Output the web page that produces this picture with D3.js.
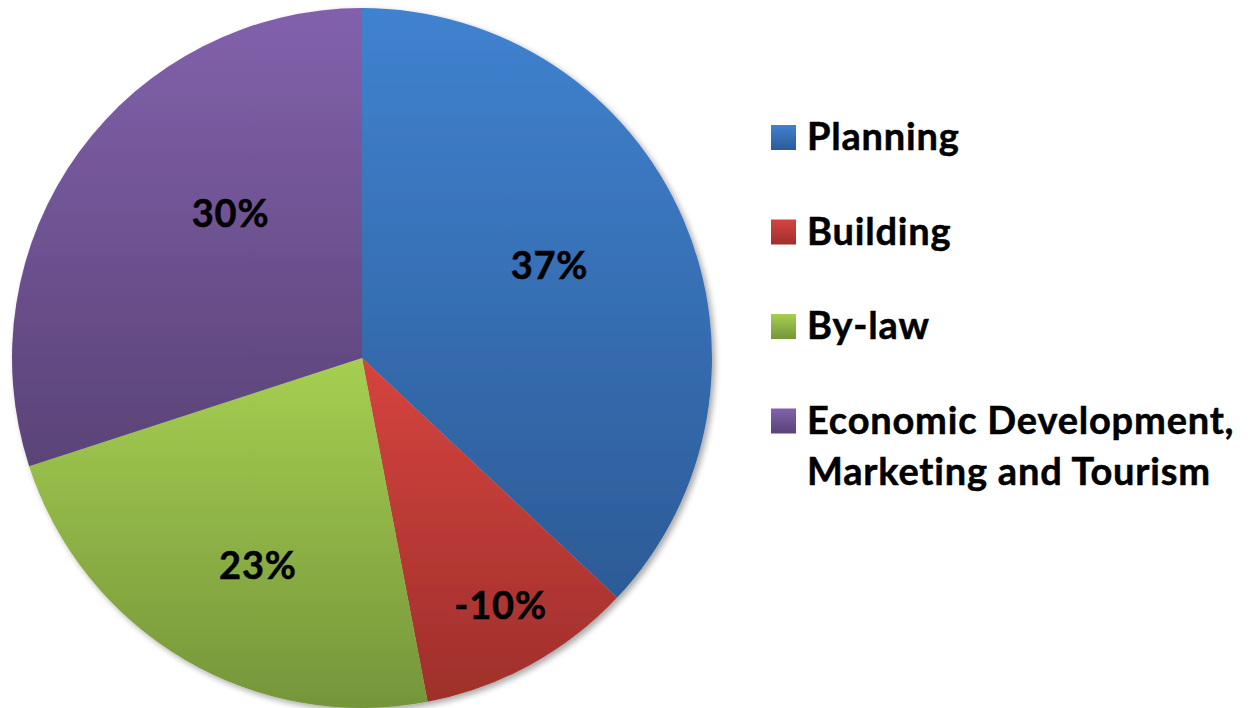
<!DOCTYPE html>
<html>
<head>
<meta charset="utf-8">
<script src="https://cdn.jsdelivr.net/npm/d3@7"></script>
<style>
  body { margin: 0; background: #fff; }
  svg { display: block; font-family: Lato, "Open Sans", sans-serif; font-weight: 700; }
  text { letter-spacing: 0.8px; stroke: #000; stroke-width: 0.5px; }
</style>
</head>
<body>
<div id="chart"></div>
<script>
// data
const categories = ['Planning', 'Building', 'By-law', 'Economic Development, Marketing and Tourism'];
const values = [37, -10, 23, 30];
const legendLines = [['Planning'], ['Building'], ['By-law'], ['Economic Development,', 'Marketing and Tourism']];

// slice gradient colours (top, bottom)
const topColors = ['#4082D0', '#D6443F', '#A6CF51', '#8261AC'];
const bottomColors = ['#2C5B96', '#9E2F2B', '#75953A', '#5A4377'];

// label placement: angle shift (deg) from slice middle, radius fraction
const labelShift = [-3, -0.5, -3.9, 11.8];
const labelRadius = [0.598, 0.809, 0.662, 0.559];

(function(){
  const width = 1251, height = 708;
  const cx = 362, cy = 358, r = 350;

  const svg = d3.select('#chart').append('svg')
    .attr('width', width)
    .attr('height', height);

  const defs = svg.append('defs');

  const shadow = defs.append('filter')
    .attr('id', 'shadow')
    .attr('x', '-10%').attr('y', '-10%')
    .attr('width', '120%').attr('height', '120%');
  shadow.append('feGaussianBlur').attr('in', 'SourceAlpha').attr('stdDeviation', 3);
  shadow.append('feOffset').attr('dx', 3).attr('dy', 3).attr('result', 'off');
  shadow.append('feComponentTransfer').append('feFuncA').attr('type', 'linear').attr('slope', 0.35);
  const merge = shadow.append('feMerge');
  merge.append('feMergeNode');
  merge.append('feMergeNode').attr('in', 'SourceGraphic');

  categories.forEach((c, i) => {
    const g = defs.append('linearGradient')
      .attr('id', 'grad' + i)
      .attr('x1', 0).attr('y1', 0).attr('x2', 0).attr('y2', 1);
    g.append('stop').attr('offset', '0%').attr('stop-color', topColors[i]);
    g.append('stop').attr('offset', '100%').attr('stop-color', bottomColors[i]);
  });

  const data = categories.map((c, i) => ({name: c, value: values[i], i: i}));

  const pie = d3.pie()
    .value(d => Math.abs(d.value))
    .sort(null);

  const arc = d3.arc().innerRadius(0).outerRadius(r);

  const arcs = pie(data);

  const g = svg.append('g')
    .attr('transform', 'translate(' + cx + ',' + cy + ')');

  g.append('g')
    .attr('filter', 'url(#shadow)')
    .selectAll('path')
    .data(arcs)
    .enter().append('path')
      .attr('d', arc)
      .attr('fill', d => 'url(#grad' + d.data.i + ')');

  g.append('g')
    .selectAll('text')
    .data(arcs)
    .enter().append('text')
      .attr('transform', d => {
        const a = (d.startAngle + d.endAngle) / 2 + labelShift[d.data.i] * Math.PI / 180;
        const rr = r * labelRadius[d.data.i];
        return 'translate(' + (rr * Math.sin(a)) + ',' + (-rr * Math.cos(a)) + ')';
      })
      .attr('text-anchor', 'middle')
      .attr('dy', '0.36em')
      .attr('font-size', 38)
      .attr('fill', '#000')
      .text(d => d.data.value + '%');

  // legend
  const legend = svg.append('g')
    .attr('transform', 'translate(771,0)');

  const item = legend.selectAll('g')
    .data(data)
    .enter().append('g')
      .attr('transform', d => 'translate(0,' + (150 + d.i * 94.5) + ')');

  item.append('rect')
    .attr('x', 0)
    .attr('y', -25)
    .attr('width', 25)
    .attr('height', 25)
    .attr('fill', d => 'url(#grad' + d.i + ')');

  item.append('text')
    .attr('x', 36)
    .attr('font-size', 38)
    .attr('fill', '#000')
    .selectAll('tspan')
    .data(d => legendLines[d.i])
    .enter().append('tspan')
      .attr('x', 36)
      .attr('dy', (d, j) => j === 0 ? 0 : 51)
      .text(d => d);
})();
</script>
</body>
</html>
